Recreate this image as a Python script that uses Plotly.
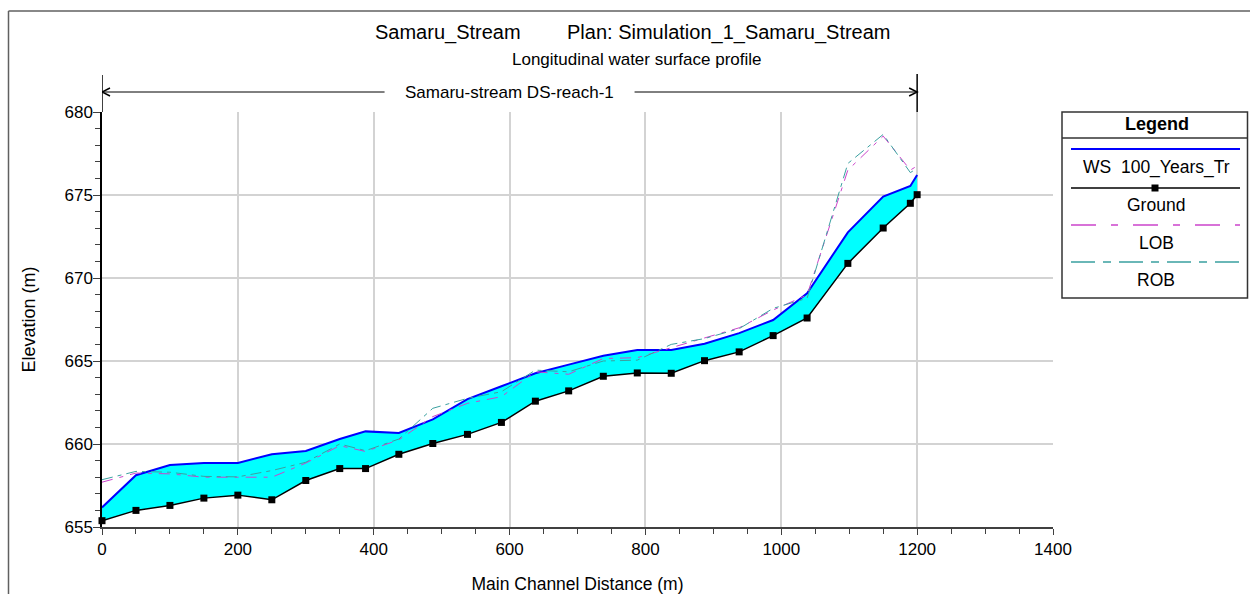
import plotly.graph_objects as go

# ---------------- data ----------------
distance = [0, 50, 100, 150, 200, 250, 300, 350, 388, 437, 487, 538, 588, 638, 687,
            738, 788, 838, 887, 938, 988, 1038, 1098, 1150, 1190, 1200]
ground = [655.38, 656.0, 656.3, 656.74, 656.92, 656.64, 657.8, 658.52, 658.52, 659.38,
          660.03, 660.58, 661.3, 662.58, 663.2, 664.08, 664.28, 664.26, 665.02, 665.55,
          666.53, 667.59, 670.88, 673.01, 674.5, 675.02]
ws_100 = [656.18, 658.12, 658.74, 658.86, 658.86, 659.38, 659.58, 660.3, 660.76, 660.66,
          661.48, 662.7, 663.48, 664.26, 664.78, 665.32, 665.66, 665.66, 666.04, 666.68,
          667.47, 669.08, 672.75, 674.9, 675.54, 676.2]
lob = [657.7, 658.25, 658.2, 658.0, 658.0, 658.0, 658.85, 659.9, 659.55, 660.25,
       661.65, 662.45, 662.85, 664.35, 664.2, 665.15, 665.2, 665.8, 666.4, 667.0,
       668.07, 668.98, 676.5, 678.55, 676.5, 676.75]
rob = [657.85, 658.35, 658.3, 658.05, 658.02, 658.4, 658.9, 660.0, 659.6, 660.3,
       662.15, 662.75, 663.15, 664.45, 664.35, 665.0, 665.05, 666.0, 666.35, 666.95,
       668.17, 668.78, 676.9, 678.65, 676.35, 676.6]

legend_labels = ["WS\u00a0\u00a0100_Years_Tr", "Ground", "LOB", "ROB"]
reach_name = "Samaru-stream DS-reach-1"
river_name = "Samaru_Stream"
plan_name = "Plan: Simulation_1_Samaru_Stream"
subtitle = "Longitudinal water surface profile"

# ---------------- styles ----------------
FONT = "Liberation Sans, Arial, sans-serif"
WS_COL = "#0000FF"
FILL_COL = "#00FFFF"
LOB_COL = "#CC44CC"
ROB_COL = "#3AA0A0"
GRID_COL = "#D3D3D3"

W, H = 1250, 594
ML, MR, MT, MB = 102, 197, 112, 67
PW, PH = W - ML - MR, H - MT - MB


def px(xp):
    return (xp - ML) / PW


def py(yp):
    return (H - MB - yp) / PH


fig = go.Figure()

# invisible ground base for the fill
fig.add_trace(go.Scatter(x=distance, y=ground, mode="lines", line=dict(width=0, color="black"),
                         showlegend=False, hoverinfo="skip"))
fig.add_trace(go.Scatter(x=distance, y=ws_100, mode="lines", fill="tonexty", fillcolor=FILL_COL,
                         line=dict(color=WS_COL, width=2), name=legend_labels[0], showlegend=False))
fig.add_trace(go.Scatter(x=distance, y=lob, mode="lines",
                         line=dict(color=LOB_COL, width=1, dash="11px,7px,4px,7px"),
                         name="LOB", showlegend=False))
fig.add_trace(go.Scatter(x=distance, y=rob, mode="lines",
                         line=dict(color=ROB_COL, width=1, dash="11px,5px,4px,5px"),
                         name="ROB", showlegend=False))
fig.add_trace(go.Scatter(x=distance, y=ground, mode="lines+markers",
                         line=dict(color="black", width=1.5),
                         marker=dict(symbol="square", size=7, color="black"),
                         name="Ground", showlegend=False, cliponaxis=False))

shapes = []
FRAME = "#606060"
# outer frame (top and left edges)
shapes.append(dict(type="line", xref="paper", yref="paper", x0=px(8.5), x1=px(1250), y0=py(11), y1=py(11),
                   line=dict(color=FRAME, width=1.5)))
shapes.append(dict(type="line", xref="paper", yref="paper", x0=px(8.5), x1=px(8.5), y0=py(11), y1=py(594),
                   line=dict(color=FRAME, width=1.5)))

# reach markers
reach_start, reach_end = distance[0], distance[-1]
shapes.append(dict(type="line", xref="x", yref="paper", x0=reach_start, x1=reach_start, y0=1, y1=py(75),
                   line=dict(color="black", width=1.5)))
shapes.append(dict(type="line", xref="x", yref="paper", x0=reach_end, x1=reach_end, y0=1, y1=py(74),
                   line=dict(color="black", width=1.5)))
ARROW_Y = py(92)
mid = (reach_start + reach_end) / 2
half_gap = 125 * 1400 / PW
shapes.append(dict(type="line", xref="x", yref="paper", x0=reach_start, x1=mid - half_gap, y0=ARROW_Y, y1=ARROW_Y,
                   line=dict(color="black", width=1)))
shapes.append(dict(type="line", xref="x", yref="paper", x0=mid + half_gap, x1=reach_end, y0=ARROW_Y, y1=ARROW_Y,
                   line=dict(color="black", width=1)))
ah_dx = 8 * 1400 / PW
ah_dy = 4 / PH
shapes.append(dict(type="path", xref="x", yref="paper",
                   path=f"M {reach_start + ah_dx} {ARROW_Y + ah_dy} L {reach_start} {ARROW_Y} L {reach_start + ah_dx} {ARROW_Y - ah_dy}",
                   line=dict(color="black", width=1.5)))
shapes.append(dict(type="path", xref="x", yref="paper",
                   path=f"M {reach_end - ah_dx} {ARROW_Y + ah_dy} L {reach_end} {ARROW_Y} L {reach_end - ah_dx} {ARROW_Y - ah_dy}",
                   line=dict(color="black", width=1.5)))

# legend box
LX0, LX1, LY0, LY1 = 1062, 1247.5, 112, 298
shapes.append(dict(type="rect", xref="paper", yref="paper", x0=px(LX0), x1=px(LX1), y0=py(LY0), y1=py(LY1),
                   line=dict(color="#333333", width=1.5), fillcolor="white"))
shapes.append(dict(type="line", xref="paper", yref="paper", x0=px(LX0), x1=px(LX1), y0=py(138), y1=py(138),
                   line=dict(color="#333333", width=1.5)))
SX0, SX1 = 1071, 1240
shapes.append(dict(type="line", xref="paper", yref="paper", x0=px(SX0), x1=px(SX1), y0=py(149), y1=py(149),
                   line=dict(color=WS_COL, width=2)))
shapes.append(dict(type="line", xref="paper", yref="paper", x0=px(SX0), x1=px(SX1), y0=py(188), y1=py(188),
                   line=dict(color="black", width=1.5)))
shapes.append(dict(type="rect", xref="paper", yref="paper", x0=px(1151.5), x1=px(1158.5), y0=py(184.5), y1=py(191.5),
                   line=dict(color="black", width=0), fillcolor="black"))
shapes.append(dict(type="line", xref="paper", yref="paper", x0=px(SX0), x1=px(SX1), y0=py(225), y1=py(225),
                   line=dict(color=LOB_COL, width=1.5, dash="25px,15px,7px,15px")))
shapes.append(dict(type="line", xref="paper", yref="paper", x0=px(SX0), x1=px(SX1), y0=py(262), y1=py(262),
                   line=dict(color=ROB_COL, width=1.5, dash="24px,8px,8px,8px")))

annotations = []


def txt(text, x, y, size, bold=False, bg=None):
    d = dict(text=f"<b>{text}</b>" if bold else text, xref="paper", yref="paper", x=px(x), y=py(y),
             xanchor="center", yanchor="middle", showarrow=False,
             font=dict(family=FONT, size=size, color="black"))
    if bg:
        d["bgcolor"] = bg
    annotations.append(d)


txt(river_name, 448, 32, 20)
txt(plan_name, 729, 32, 20)
txt(subtitle, 636, 59, 17)
annotations.append(dict(text=reach_name, xref="x", yref="paper", x=mid, y=ARROW_Y, xanchor="center",
                        yanchor="middle", showarrow=False, font=dict(family=FONT, size=17, color="black")))
txt("Legend", 1157, 124, 18, bold=True)
txt(legend_labels[0], 1156, 168, 17.5)
txt(legend_labels[1], 1156, 205, 17.5)
txt(legend_labels[2], 1156, 243, 17.5)
txt(legend_labels[3], 1156, 280, 17.5)

fig.update_layout(
    width=W, height=H,
    margin=dict(l=ML, r=MR, t=MT, b=MB, autoexpand=False),
    paper_bgcolor="white", plot_bgcolor="white",
    font=dict(family=FONT, size=17, color="black"),
    showlegend=False,
    shapes=shapes,
    annotations=annotations,
    xaxis=dict(range=[0, 1400], dtick=200, tick0=0, showgrid=True, gridcolor=GRID_COL, gridwidth=1.5,
               zeroline=False, showline=True, linecolor="#404040", linewidth=1.5,
               ticks="outside", ticklen=6, tickcolor="#404040", tickwidth=1,
               minor=dict(dtick=50, ticks="outside", ticklen=5, tickcolor="#404040", showgrid=False),
               tickfont=dict(size=17),
               title=dict(text="Main Channel Distance (m)", font=dict(size=17.5), standoff=20)),
    yaxis=dict(range=[655, 680], dtick=5, tick0=655, showgrid=True, gridcolor=GRID_COL, gridwidth=1.5,
               zeroline=False, showline=True, linecolor="black", linewidth=1.5,
               ticks="outside", ticklen=7, tickcolor="#404040", tickwidth=1,
               minor=dict(dtick=1, ticks="outside", ticklen=5, tickcolor="#404040", showgrid=False),
               tickfont=dict(size=17), ticklabelstandoff=-3,
               title=dict(text="Elevation (m)", font=dict(size=18), standoff=24)),
)

fig.write_html("out.html")
